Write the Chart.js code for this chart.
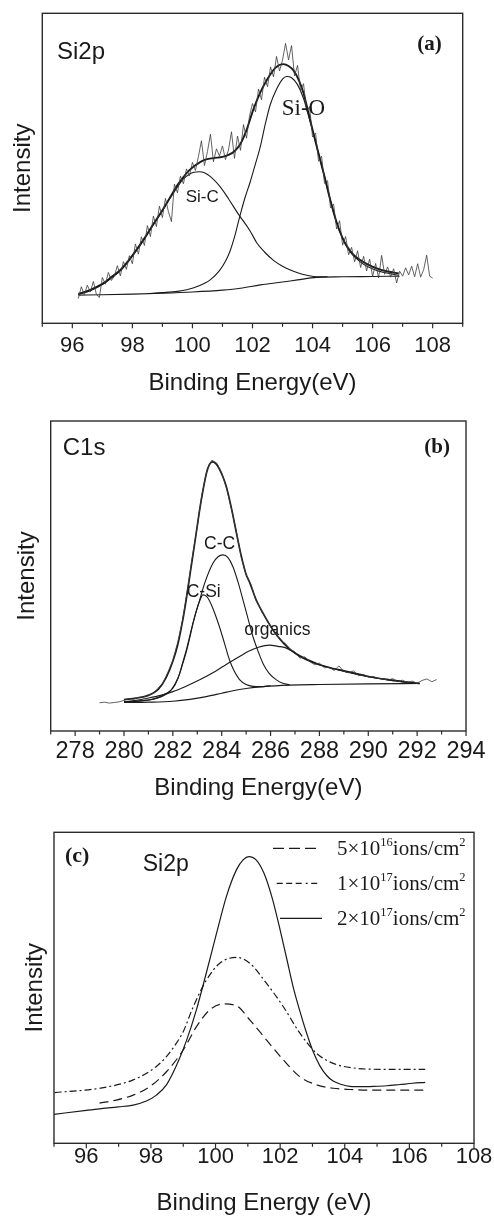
<!DOCTYPE html>
<html><head><meta charset="utf-8">
<script src="https://cdn.jsdelivr.net/npm/chart.js@4.4.1/dist/chart.umd.min.js"></script>
<style>
html,body{margin:0;padding:0;background:#fff;}
#wrap{position:relative;width:494px;height:1216px;overflow:hidden;background:#fff;}
canvas{position:absolute;left:0;}
</style></head>
<body><div id="wrap">
<canvas id="ca" width="494" height="400" style="top:0px;width:494px;height:400px"></canvas>
<canvas id="cb" width="494" height="410" style="top:400px;width:494px;height:410px"></canvas>
<canvas id="cc" width="494" height="406" style="top:810px;width:494px;height:406px"></canvas>
</div>
<script>
// ---------- Panel (a): Si2p fit ----------
const ticksA = [95,96,97,98,99,100,101,102,103,104,105,106,107,108,109];
const rawA_x = [96.2,96.3,96.4,96.5,96.6,96.7,96.8,96.9,97.0,97.1,97.2,97.3,97.4,97.5,97.6,97.7,97.8,97.9,98.0,98.1,98.2,98.3,98.4,98.5,98.6,98.7,98.8,98.9,99.0,99.1,99.2,99.3,99.4,99.5,99.6,99.7,99.8,99.9,100.0,100.1,100.2,100.3,100.4,100.5,100.6,100.7,100.8,100.9,101.0,101.1,101.2,101.3,101.4,101.5,101.6,101.7,101.8,101.9,102.0,102.1,102.2,102.3,102.4,102.5,102.6,102.7,102.8,102.9,103.0,103.1,103.2,103.3,103.4,103.5,103.6,103.7,103.8,103.9,104.0,104.1,104.2,104.3,104.4,104.5,104.6,104.7,104.8,104.9,105.0,105.1,105.2,105.3,105.4,105.5,105.6,105.7,105.8,105.9,106.0,106.1,106.2,106.3,106.4,106.5,106.6,106.7,106.8,106.9,107.0,107.1,107.2,107.3,107.4,107.5,107.6,107.7,107.8,107.9,108.0];
const rawA_y = [8.0,11.8,9.2,12.3,10.1,13.5,9.4,8.3,14.8,12.6,16.4,13.8,15.2,18.6,15.3,19.9,17.4,21.8,19.2,25.6,22.3,27.9,25.1,31.5,28.0,34.6,31.2,37.8,34.1,40.3,36.0,32.8,44.9,42.1,47.5,45.0,49.8,47.6,51.9,49.3,53.8,58.9,50.9,55.4,61.0,52.1,56.3,54.0,57.2,52.8,55.9,61.8,53.2,60.4,55.8,64.1,59.7,66.8,70.9,68.2,75.6,72.1,79.4,76.3,82.7,79.5,86.1,81.4,84.9,90.3,85.0,89.6,79.8,83.2,75.1,77.3,68.4,69.9,60.1,61.4,52.3,53.9,45.1,46.0,37.2,38.5,30.4,33.1,25.2,28.0,22.1,24.5,19.8,23.4,18.0,21.6,16.9,20.7,15.1,19.3,14.6,21.9,15.8,18.2,14.9,17.6,13.0,16.8,15.2,17.9,15.6,18.4,15.0,19.2,14.9,17.3,22.0,15.2,14.6];
const envA_x = [96.2,96.6,97.0,97.3,97.6,97.9,98.1,98.4,98.7,99.0,99.26,99.5,99.7,99.9,100.1,100.4,100.7,101.0,101.2,101.4,101.6,101.8,102.03,102.26,102.48,102.76,103.03,103.2,103.37,103.55,103.7,103.92,104.14,104.37,104.59,104.81,105.0,105.14,105.35,105.59,105.85,106.14,106.5,106.87];
const envA_y = [9.5,10.8,12.7,14.9,17.2,20.6,23.2,27.4,32.0,36.5,40.7,44.6,47.2,49.4,51.0,52.7,53.3,53.7,54.3,55.5,57.9,62.3,69.0,74.5,78.5,82.4,83.6,83.0,81.5,78.3,74.2,65.6,57.0,48.4,39.8,32.3,27.5,24.9,22.2,20.4,18.9,17.7,16.7,16.1];
const siC_x = [96.2,96.6,97.0,97.3,97.6,97.9,98.1,98.4,98.7,99.0,99.26,99.5,99.7,99.9,100.05,100.22,100.4,100.6,100.92,101.2,101.53,101.92,102.14,102.4,102.7,103.0,103.26,103.5,103.81,104.2,104.5];
const siC_y = [9.3,10.5,12.5,14.6,17.0,20.4,23.0,27.2,31.8,36.3,40.4,44.0,46.6,48.1,48.7,48.9,48.6,47.3,44.1,40.2,35.2,29.8,26.0,23.0,20.3,18.4,17.2,16.3,15.5,15.0,15.0];
const siO_x = [98.5,99.0,99.5,99.81,100.2,100.59,100.9,101.1,101.26,101.42,101.59,101.75,101.92,102.1,102.26,102.42,102.59,102.8,103.0,103.14,103.3,103.5,103.7,103.92,104.14,104.37,104.59,104.81,105.14,105.59,106.14,106.87];
const siO_y = [9.6,9.9,10.3,10.8,12.0,14.0,17.0,20.0,23.5,28.5,35.0,40.5,45.5,51.5,57.0,64.0,70.5,75.5,78.8,79.6,79.2,77.0,72.5,65.0,57.0,48.4,39.8,32.3,24.7,19.8,17.0,15.5];
const bgA_x = [96.2,97.0,98.0,99.0,100.0,101.0,101.6,102.26,103.0,103.5,104.14,105.0,106.0,106.9];
const bgA_y = [9.1,9.2,9.4,9.7,10.1,10.7,11.3,12.4,13.3,14.0,14.8,15.0,15.1,15.2];

// ---------- Panel (b): C1s fit ----------
const ticksB = [277,278,279,280,281,282,283,284,285,286,287,288,289,290,291,292,293,294];
const rawB_x = [279.0,279.2,279.4,279.6,279.8,280.0,280.2,280.4,280.6,280.8,281.0,281.2,281.4,281.6,281.8,282.0,282.2,282.4,282.6,282.8,283.0,283.2,283.4,283.6,283.8,284.0,284.2,284.4,284.6,284.8,285.0,285.2,285.4,285.6,285.8,286.0,286.2,286.4,286.6,286.8,287.0,287.2,287.4,287.6,287.8,288.0,288.2,288.4,288.6,288.8,289.0,289.2,289.4,289.6,289.8,290.0,290.2,290.4,290.6,290.8,291.0,291.2,291.4,291.6,291.8,292.0,292.2,292.4,292.6,292.8];
const rawB_y = [9.1,9.3,9.0,9.2,9.4,9.9,10.4,10.3,10.9,11.0,11.7,12.1,13.8,15.6,19.0,22.8,28.6,35.8,45.7,56.2,66.1,76.6,84.2,87.4,86.4,83.1,78.3,71.6,64.2,56.0,50.4,47.3,42.1,39.4,36.3,33.8,31.7,29.2,28.3,26.4,25.5,23.5,23.9,22.4,21.4,21.9,20.4,20.6,19.5,21.0,19.2,18.8,19.4,17.8,18.2,17.4,17.6,17.0,16.8,16.4,16.9,15.9,16.4,15.6,16.1,15.4,16.3,16.8,15.9,16.6];
const envB_x = [280.0,280.5,281.0,281.4,281.73,282.0,282.2,282.4,282.55,282.75,282.96,283.1,283.23,283.38,283.5,283.62,283.75,283.9,284.05,284.19,284.4,284.6,284.8,285.0,285.14,285.4,285.69,286.1,286.51,286.85,287.19,287.88,288.4,288.97,290.06,290.88,291.98,292.1];
const envB_y = [10.1,10.6,11.5,13.4,17.3,22.5,27.8,35.5,42.5,53.0,64.0,71.5,77.5,83.3,86.0,86.8,86.3,84.6,82.0,78.8,71.8,64.0,56.5,50.5,48.0,42.5,38.0,32.6,28.5,26.0,24.3,21.8,20.5,19.5,17.5,16.5,15.4,15.3];
const cSi_x = [280.0,280.5,281.0,281.32,281.7,282.0,282.2,282.41,282.55,282.69,282.82,282.96,283.1,283.23,283.38,283.5,283.64,283.85,284.05,284.32,284.5,284.73,285.0,285.28,285.6,286.0];
const cSi_y = [9.4,9.6,10.0,10.6,12.0,13.8,16.8,21.8,25.5,30.0,34.5,38.8,42.0,43.9,43.4,42.0,39.5,35.0,30.0,22.9,19.5,16.6,15.0,14.4,14.3,14.6];
const cC_x = [280.0,280.8,281.32,281.6,281.87,282.1,282.28,282.4,282.55,282.82,283.1,283.3,283.64,283.85,284.05,284.25,284.46,284.67,284.87,285.08,285.28,285.5,285.69,285.95,286.24,286.5,286.78];
const cC_y = [9.4,9.8,10.5,11.3,12.7,15.3,18.6,22.0,26.1,34.7,42.3,47.6,54.1,56.2,56.8,56.0,53.0,48.0,42.3,36.2,30.4,25.5,21.8,18.5,16.5,15.4,14.9];
const org_x = [280.0,280.5,280.91,281.5,282.0,282.5,283.1,283.6,284.05,284.4,284.73,285.1,285.5,285.96,286.3,286.6,286.9,287.19,287.5,287.88,288.4,288.97,289.5,290.06,290.88,291.5,292.1];
const org_y = [9.5,9.9,10.5,11.5,12.7,14.3,16.5,18.6,20.8,22.5,24.0,25.7,27.0,27.7,27.3,26.9,25.6,24.0,22.8,21.6,20.4,19.3,18.3,17.4,16.4,15.8,15.3];
const bgB_x = [280.0,281.0,282.0,282.7,283.37,284.0,284.46,285.0,285.69,286.78,288.0,290.0,292.1];
const bgB_y = [9.2,9.3,9.6,10.2,11.1,12.2,13.0,13.7,14.3,14.8,15.0,15.2,15.3];

// ---------- Panel (c): Si2p vs dose ----------
const ticksC = [95,96,97,98,99,100,101,102,103,104,105,106,107,108];
const seriesNames = ['5×10|16|ions/cm|2', '1×10|17|ions/cm|2', '2×10|17|ions/cm|2'];
const d5e16_x = [96.41,96.93,97.45,97.96,98.48,99.0,99.41,99.82,100.24,100.65,101.06,101.58,102.1,102.61,103.13,103.64,104.16,104.68,105.5,106.49];
const d5e16_y = [12.9,13.9,15.5,18.2,23.0,30.0,37.5,42.9,44.8,44.2,39.7,33.2,26.8,21.4,18.8,17.7,17.3,17.1,17.1,17.1];
const d1e17_x = [95.02,96.41,97.45,98.17,98.48,98.79,99.0,99.31,99.72,100.13,100.65,101.06,101.58,102.1,102.61,103.13,103.64,104.37,105.19,106.49];
const d1e17_y = [16.3,17.7,20.4,24.7,27.9,32.2,35.9,43.9,52.5,57.9,59.8,57.9,51.4,43.9,35.4,28.9,25.7,24.1,23.8,23.8];
const d2e17_x = [95.0,96.0,96.41,97.0,97.45,97.86,98.17,98.48,98.79,99.10,99.41,99.72,100.03,100.34,100.65,100.86,101.03,101.27,101.5,101.75,101.99,102.2,102.4,102.61,102.82,103.02,103.23,103.44,103.64,103.9,104.16,104.5,104.9,105.3,105.71,106.1,106.49];
const d2e17_y = [9.3,10.6,11.1,11.7,12.3,13.6,15.5,18.8,25.0,33.0,43.0,55.0,67.5,79.5,88.0,91.2,92.2,91.0,86.8,79.0,69.0,59.5,50.4,42.5,35.4,29.5,24.9,21.8,20.0,18.9,18.3,18.2,18.3,18.5,18.9,19.3,19.6];

// ---------- helpers ----------
const INK = '#1a1a1a';
Chart.defaults.font.family = '"Liberation Sans", Arial, sans-serif';
Chart.defaults.color = INK;

function pts(xs, ys) { return xs.map((x, i) => ({x: x, y: ys[i]})); }
function line(xs, ys, w, opt) {
  return Object.assign({
    data: pts(xs, ys), showLine: true, pointRadius: 0, borderColor: INK,
    borderWidth: w, cubicInterpolationMode: 'monotone', fill: false
  }, opt || {});
}

const framePlugin = {
  id: 'frame',
  afterDraw(chart, args, opts) {
    const {ctx, chartArea: a} = chart;
    const xs = chart.scales.x;
    ctx.save();
    ctx.strokeStyle = '#2b2b2b';
    ctx.lineWidth = 1.4;
    ctx.setLineDash([]);
    ctx.strokeRect(a.left, a.top, a.right - a.left, a.bottom - a.top);
    ctx.lineWidth = 1.2;
    xs.ticks.forEach(t => {
      const px = xs.getPixelForValue(t.value);
      const len = Math.round(t.value) % 2 === 0 ? 5 : 3.5;
      ctx.beginPath(); ctx.moveTo(px, a.bottom); ctx.lineTo(px, a.bottom + len); ctx.stroke();
    });
    ctx.fillStyle = INK;
    ctx.textBaseline = 'alphabetic';
    (opts.labels || []).forEach(l => {
      ctx.font = l.font;
      ctx.textAlign = l.align || 'left';
      ctx.fillText(l.text, l.x, l.y);
    });
    if (opts.legend) {
      const L = opts.legend;
      L.rows.forEach((r, i) => {
        ctx.strokeStyle = INK; ctx.lineWidth = 1.3;
        ctx.setLineDash(r.dash);
        ctx.beginPath(); ctx.moveTo(r.x0, r.ly); ctx.lineTo(r.x1, r.ly); ctx.stroke();
        ctx.setLineDash([]);
        const parts = seriesNames[i].split('|');
        let cx = L.tx;
        ctx.textAlign = 'left';
        parts.forEach((p, k) => {
          const sup = k % 2 === 1;
          ctx.font = sup ? '12.5px "Liberation Serif"' : '21px "Liberation Serif"';
          ctx.fillText(p, cx, sup ? r.ty - 9.5 : r.ty);
          cx += ctx.measureText(p).width;
        });
      });
    }
    ctx.restore();
  }
};

function makeChart(id, c) {
  return new Chart(document.getElementById(id), {
    type: 'scatter',
    data: {datasets: c.datasets},
    options: {
      responsive: false, animation: false, devicePixelRatio: 1,
      layout: {padding: {top: c.padTop, right: c.padRight, left: 0, bottom: 0}},
      plugins: {legend: {display: false}, tooltip: {enabled: false},
                frame: {labels: c.labels, legend: c.legend}},
      scales: {
        x: {
          type: 'linear', min: c.ticks[0], max: c.ticks[c.ticks.length - 1],
          afterBuildTicks: s => { s.ticks = c.ticks.map(v => ({value: v})); },
          afterFit: s => { s.height = c.xH; },
          grid: {display: false, drawTicks: false}, border: {display: false},
          ticks: {autoSkip: false, maxRotation: 0, minRotation: 0, padding: c.tickPad,
                  font: {size: c.tickSize}, color: INK,
                  callback: v => (Math.round(v) % 2 === 0 ? String(Math.round(v)) : '')},
          title: {display: true, text: c.xTitle, font: {size: 24}, color: INK,
                  padding: {top: 0, bottom: c.titlePad}}
        },
        y: {
          type: 'linear', min: 0, max: 100,
          afterFit: s => { s.width = c.yW; },
          grid: {display: false, drawTicks: false}, border: {display: false},
          ticks: {display: false},
          title: {display: true, text: 'Intensity', font: {size: 24}, color: INK,
                  padding: {top: c.yTitlePad, bottom: 0}}
        }
      }
    },
    plugins: [framePlugin]
  });
}

// Panel (a)
makeChart('ca', {
  ticks: ticksA, padTop: 13.3, padRight: 31.3, yW: 42.3, xH: 76.7,
  tickPad: 9, tickSize: 22, titlePad: 2.3, yTitlePad: 8.9,
  xTitle: 'Binding Energy(eV)',
  datasets: [
    line(rawA_x, rawA_y, 0.8, {borderColor: '#3c3c3c', cubicInterpolationMode: 'default', tension: 0}),
    line(bgA_x, bgA_y, 1.1),
    line(siC_x, siC_y, 1.1),
    line(siO_x, siO_y, 1.1),
    line(envA_x, envA_y, 1.9)
  ],
  labels: [
    {text: 'Si2p', x: 57, y: 59.3, font: '24px "Liberation Sans"'},
    {text: '(a)', x: 441.7, y: 49.8, font: 'bold 21px "Liberation Serif"', align: 'right'},
    {text: 'Si-O', x: 281.7, y: 115, font: '23px "Liberation Serif"'},
    {text: 'Si-C', x: 185.7, y: 201.7, font: '17px "Liberation Sans"'}
  ]
});

// Panel (b)
makeChart('cb', {
  ticks: ticksB, padTop: 21, padRight: 28, yW: 50.7, xH: 79,
  tickPad: 6.6, tickSize: 23.5, titlePad: 7.6, yTitlePad: 12.9,
  xTitle: 'Binding Energy(eV)',
  datasets: [
    line(rawB_x, rawB_y, 0.8, {borderColor: '#3c3c3c', cubicInterpolationMode: 'default', tension: 0}),
    line(bgB_x, bgB_y, 1.1),
    line(cSi_x, cSi_y, 1.1),
    line(cC_x, cC_y, 1.1),
    line(org_x, org_y, 1.1),
    line(envB_x, envB_y, 1.7)
  ],
  labels: [
    {text: 'C1s', x: 62.7, y: 55, font: '24px "Liberation Sans"'},
    {text: '(b)', x: 450, y: 53, font: 'bold 21px "Liberation Serif"', align: 'right'},
    {text: 'C-C', x: 204, y: 149, font: '17.5px "Liberation Sans"'},
    {text: 'C-Si', x: 186.7, y: 197.3, font: '17.5px "Liberation Sans"'},
    {text: 'organics', x: 244.3, y: 234.5, font: '17.5px "Liberation Sans"'}
  ]
});

// Panel (c)
makeChart('cc', {
  ticks: ticksC, padTop: 22.3, padRight: 20, yW: 54, xH: 72.7,
  tickPad: 0, tickSize: 22, titlePad: -1.4, yTitlePad: 20.6,
  xTitle: 'Binding Energy (eV)',
  datasets: [
    line(d5e16_x, d5e16_y, 1.2, {borderDash: [9, 5]}),
    line(d1e17_x, d1e17_y, 1.2, {borderDash: [7, 3, 2, 3]}),
    line(d2e17_x, d2e17_y, 1.2)
  ],
  labels: [
    {text: '(c)', x: 65, y: 52, font: 'bold 22px "Liberation Serif"'},
    {text: 'Si2p', x: 142.7, y: 61, font: '23px "Liberation Sans"'}
  ],
  legend: {
    tx: 337,
    rows: [
      {dash: [11, 5], x0: 273, x1: 318, ly: 38.3, ty: 45},
      {dash: [6, 3.5, 6, 3.5, 6, 4, 2, 3.5, 6, 3.5], x0: 276.7, x1: 318, ly: 73.3, ty: 80},
      {dash: [], x0: 280, x1: 322, ly: 108.3, ty: 115}
    ]
  }
});
</script>
</body></html>
